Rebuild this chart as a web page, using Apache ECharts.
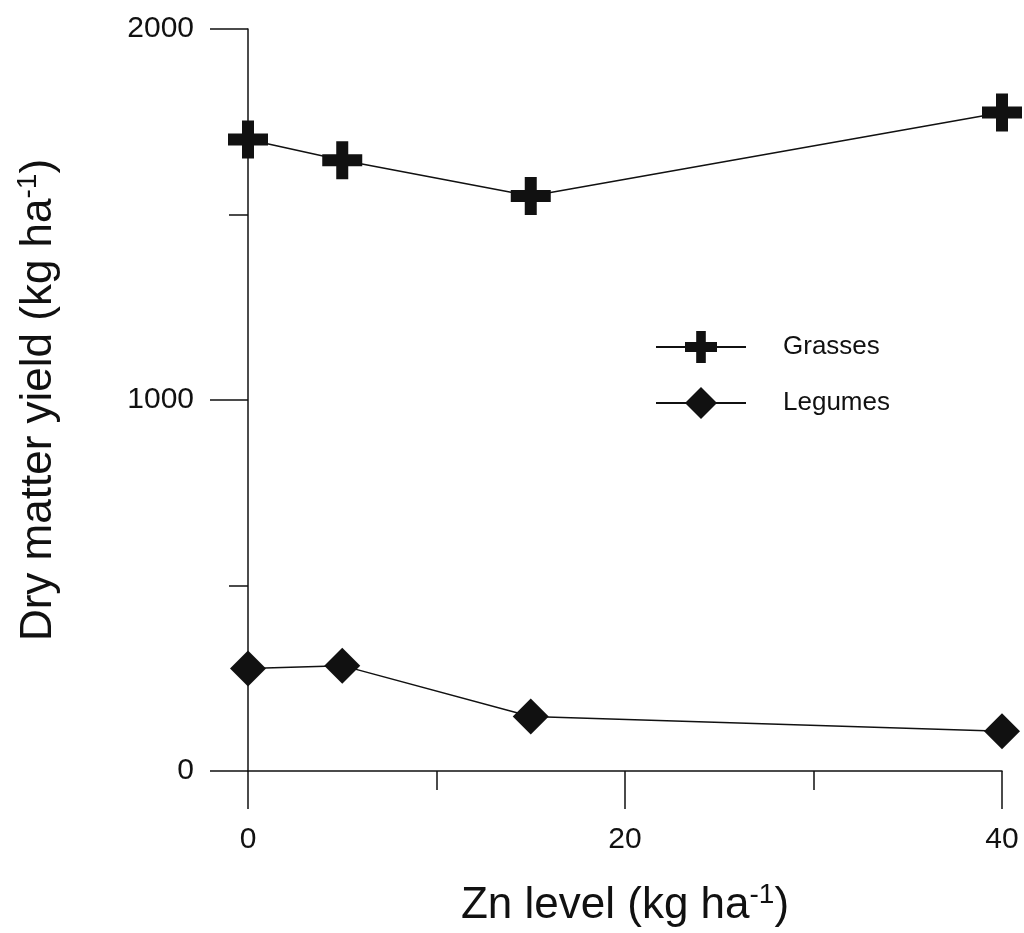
<!DOCTYPE html>
<html>
<head>
<meta charset="utf-8">
<style>
  html, body { margin: 0; padding: 0; background: #ffffff; }
  #chart { width: 1024px; height: 933px; }
</style>
<script src="https://cdn.jsdelivr.net/npm/echarts@6/dist/echarts.min.js"></script>
</head>
<body>
<div id="chart"></div>
<script>
// Data
const znLevels = [0, 5, 15, 40];
const grasses = [1702, 1646, 1550, 1775];
const legumes = [276, 284, 147, 107];
const seriesNames = ['Grasses', 'Legumes'];
const xTicks = { min: 0, max: 40, interval: 20 };
const yTicks = { min: 0, max: 2000, interval: 1000 };

const FONT = '"Liberation Sans", Arial, Helvetica, sans-serif';
const INK = '#111111';
const crossPath = 'path://M14,0 H26 V13 H40 V25 H26 V38 H14 V25 H0 V13 H14 Z';

const chart = echarts.init(document.getElementById('chart'), null, { renderer: 'canvas' });

const axisCommon = {
  axisLine: { show: true, lineStyle: { color: INK, width: 1.5 } },
  axisTick: { show: true, inside: false, length: 38, lineStyle: { color: INK, width: 1.5 } },
  minorTick: { show: true, splitNumber: 2, length: 19, lineStyle: { color: INK, width: 1.5 } },
  splitLine: { show: false },
  minorSplitLine: { show: false }
};

const option = {
  animation: false,
  backgroundColor: '#ffffff',
  grid: { left: 248, right: 22, top: 29, bottom: 158, containLabel: false },
  legend: {
    orient: 'vertical',
    left: 650,
    top: 326,
    itemWidth: 90,
    itemHeight: 40,
    itemGap: 24,
    data: seriesNames,
    textStyle: { fontFamily: FONT, fontSize: 26, color: INK, padding: [0, 0, 0, 32] }
  },
  xAxis: Object.assign({
    type: 'value',
    min: xTicks.min,
    max: xTicks.max,
    interval: xTicks.interval,
    name: '{a|Zn level (kg ha}{s|-1}{a|)}',
    nameLocation: 'middle',
    nameGap: 110,
    nameTextStyle: {
      rich: {
        a: { fontFamily: FONT, fontSize: 44, color: INK },
        s: { fontFamily: FONT, fontSize: 28, color: INK, padding: [0, 0, 22, 0] }
      }
    },
    axisLabel: { fontFamily: FONT, fontSize: 30, color: INK, margin: 54 }
  }, axisCommon),
  yAxis: Object.assign({
    type: 'value',
    min: yTicks.min,
    max: yTicks.max,
    interval: yTicks.interval,
    name: '{a|Dry matter yield (kg ha}{s|-1}{a|)}',
    nameLocation: 'middle',
    nameGap: 184,
    nameRotate: 90,
    nameTextStyle: {
      rich: {
        a: { fontFamily: FONT, fontSize: 44, color: INK },
        s: { fontFamily: FONT, fontSize: 28, color: INK, padding: [0, 0, 22, 0] }
      }
    },
    axisLabel: {
      fontFamily: FONT, fontSize: 30, color: INK, margin: 54,
      formatter: v => String(v)
    }
  }, axisCommon),
  series: [
    {
      name: seriesNames[0],
      type: 'line',
      data: znLevels.map((x, i) => [x, grasses[i]]),
      symbol: crossPath,
      symbolSize: [40, 38],
      itemStyle: { color: INK },
      lineStyle: { color: INK, width: 1.5 },
      z: 3
    },
    {
      name: seriesNames[1],
      type: 'line',
      data: znLevels.map((x, i) => [x, legumes[i]]),
      symbol: 'diamond',
      symbolSize: [36, 36],
      itemStyle: { color: INK },
      lineStyle: { color: INK, width: 1.5 },
      z: 3
    }
  ]
};

chart.setOption(option);
</script>
</body>
</html>
